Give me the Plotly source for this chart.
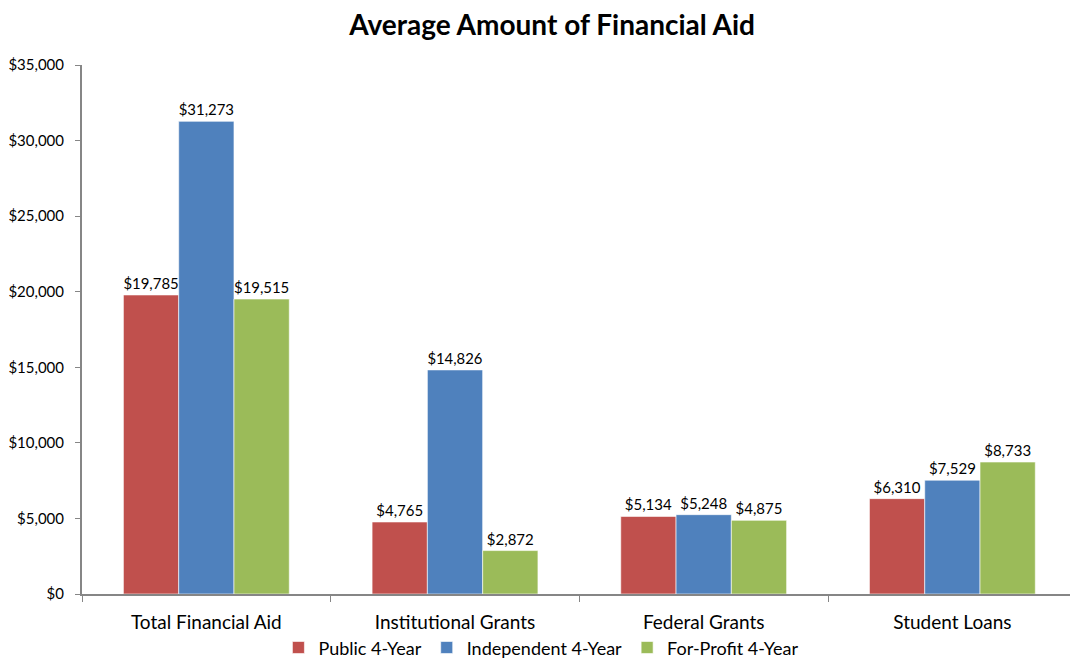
import plotly.graph_objects as go

categories = ["Total Financial Aid", "Institutional Grants", "Federal Grants", "Student Loans"]
public_4yr = [19785, 4765, 5134, 6310]
independent_4yr = [31273, 14826, 5248, 7529]
for_profit_4yr = [19515, 2872, 4875, 8733]

series = [
    ("Public 4-Year", public_4yr, "#C0504D"),
    ("Independent 4-Year", independent_4yr, "#4F81BD"),
    ("For-Profit 4-Year", for_profit_4yr, "#9BBB59"),
]

font_family = "Lato, Open Sans, sans-serif"

fig = go.Figure()
for name, vals, color in series:
    fig.add_trace(go.Bar(
        name=name,
        x=categories,
        y=vals,
        marker=dict(color=color, line=dict(color="rgba(255,255,255,0.6)", width=1)),
        text=[f"${v:,}" for v in vals],
        textposition="outside",
        textfont=dict(size=15, color="#000000", family=font_family),
        cliponaxis=False,
    ))

fig.update_layout(
    width=1070,
    height=661,
    barmode="group",
    bargap=0.333,
    bargroupgap=0,
    plot_bgcolor="white",
    paper_bgcolor="white",
    margin=dict(l=82, r=0, t=65, b=67, autoexpand=False),
    font=dict(family=font_family, size=15, color="#000000"),
    title=dict(
        text="<b>Average Amount of Financial Aid</b>",
        xref="container",
        x=0.516,
        xanchor="center",
        y=0.962,
        yanchor="middle",
        font=dict(size=28, family=font_family, color="#000000"),
    ),
    legend=dict(
        orientation="h",
        xref="container",
        x=0.506,
        xanchor="center",
        yref="container",
        y=0.02,
        yanchor="middle",
        bgcolor="rgba(0,0,0,0)",
        font=dict(size=18, family=font_family),
        itemwidth=30,
        traceorder="normal",
    ),
    xaxis=dict(
        range=[-0.5, 3.473],
        showline=True,
        linecolor="#868686",
        linewidth=2,
        ticks="outside",
        tickson="boundaries",
        ticklen=6,
        tickcolor="#868686",
        tickfont=dict(size=19),
        ticklabelstandoff=10,
        showgrid=False,
    ),
    yaxis=dict(
        range=[0, 35000],
        tick0=0,
        dtick=5000,
        tickprefix="$",
        tickformat=",d",
        showline=True,
        linecolor="#868686",
        linewidth=2,
        ticks="outside",
        ticklen=5,
        tickcolor="#868686",
        tickfont=dict(size=15),
        ticklabelstandoff=8,
        showgrid=False,
        zeroline=False,
    ),
)

fig.write_html("out.html")
